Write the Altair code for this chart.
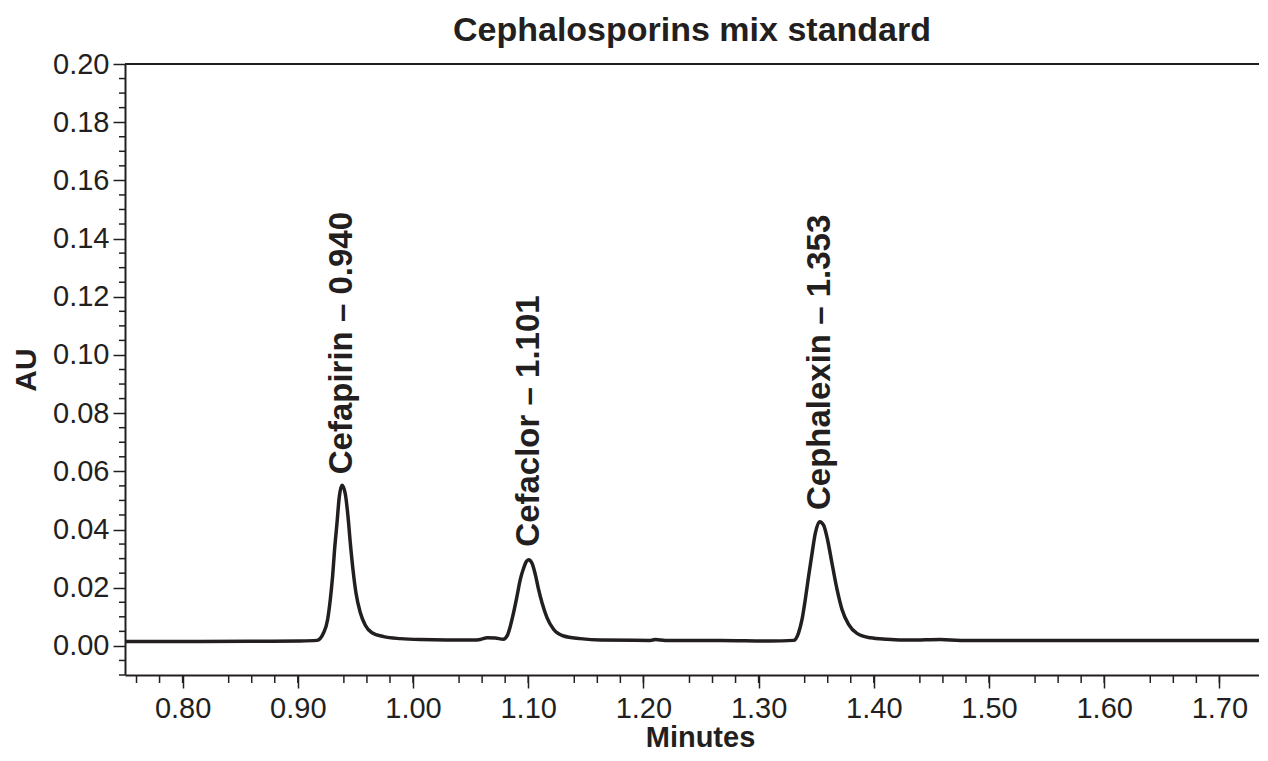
import altair as alt
import pandas as pd

# ---- data ----
minutes = [0.7500, 0.8154, 0.8674, 0.9022, 0.9167, 0.9224, 0.9259, 0.9282, 0.9302,
           0.9319, 0.9340, 0.9360, 0.9384, 0.9412, 0.9436, 0.9456, 0.9479, 0.9505,
           0.9543, 0.9586, 0.9644, 0.9745, 0.9890, 1.0063, 1.0523, 1.0584, 1.0645,
           1.0714, 1.0784, 1.0819, 1.0845, 1.0873, 1.0903, 1.0931, 1.0960, 1.0984,
           1.1003, 1.1033, 1.1062, 1.1090, 1.1120, 1.1163, 1.1220, 1.1307, 1.1452,
           1.1626, 1.2060, 1.2103, 1.2190, 1.2668, 1.3102, 1.3304, 1.3347, 1.3377,
           1.3405, 1.3434, 1.3464, 1.3492, 1.3530, 1.3564, 1.3599, 1.3637, 1.3681,
           1.3724, 1.3781, 1.3854, 1.3970, 1.4115, 1.4317, 1.4577, 1.4751, 1.5532,
           1.6400, 1.7425]
au = [0.0015, 0.0015, 0.0016, 0.0017, 0.0019, 0.0045, 0.0091, 0.0159, 0.0239,
      0.0330, 0.0421, 0.0512, 0.0552, 0.0523, 0.0444, 0.0353, 0.0262, 0.0182,
      0.0114, 0.0071, 0.0045, 0.0032, 0.0025, 0.0022, 0.0020, 0.0022, 0.0028,
      0.0027, 0.0023, 0.0036, 0.0068, 0.0114, 0.0171, 0.0228, 0.0267, 0.0290,
      0.0296, 0.0284, 0.0245, 0.0194, 0.0148, 0.0097, 0.0057, 0.0034, 0.0025,
      0.0020, 0.0019, 0.0022, 0.0019, 0.0019, 0.0017, 0.0019, 0.0045, 0.0091,
      0.0159, 0.0239, 0.0318, 0.0387, 0.0427, 0.0415, 0.0364, 0.0284, 0.0194,
      0.0125, 0.0074, 0.0043, 0.0028, 0.0023, 0.0020, 0.0022, 0.0019, 0.0019,
      0.0019, 0.0019]

peak_labels = ["Cefapirin \u2013 0.940", "Cefaclor \u2013 1.101", "Cephalexin \u2013 1.353"]
peak_label_min = [0.9384, 1.1003, 1.3530]
peak_label_au = [0.0590, 0.0341, 0.0467]

x_major_ticks = [0.80, 0.90, 1.00, 1.10, 1.20, 1.30, 1.40, 1.50, 1.60, 1.70]
y_major_ticks = [0.00, 0.02, 0.04, 0.06, 0.08, 0.10, 0.12, 0.14, 0.16, 0.18, 0.20]
x_minor_ticks = [round(0.76 + 0.02 * i, 2) for i in range(49)
                 if (i + 2) % 5 != 0]                     # 0.76 ... 1.72, skipping majors
y_minor_ticks = [round(-0.01 + 0.005 * i, 3) for i in range(42)
                 if (i - 2) % 4 != 0]                     # -0.01 ... 0.195, skipping majors

FONT = "Liberation Sans"
INK = "#231f20"
W, H = 1134, 611

trace = pd.DataFrame({"t": minutes, "au": au})
labs = pd.DataFrame({"t": peak_label_min, "au": peak_label_au, "label": peak_labels})
xminor = pd.DataFrame({"t": x_minor_ticks})
yminor = pd.DataFrame({"au": y_minor_ticks})
one = pd.DataFrame({"k": [0]})

x_scale = alt.Scale(domain=[0.75, 0.75 + W / 1152], nice=False, zero=False)
y_scale = alt.Scale(domain=[-0.01, 0.20], nice=False, zero=False)

x_axis = alt.Axis(
    values=x_major_ticks, title="Minutes", grid=False, format=".2f",
    tickSize=13, labelPadding=6, labelFlush=False, labelOverlap=False,
    titlePadding=0, titleX=575, titleFontSize=29,
)
y_axis = alt.Axis(
    values=y_major_ticks, title="AU", grid=False, format=".2f",
    tickSize=12, labelPadding=4, labelFlush=False, labelOverlap=False,
    titleX=-84,
)

line = alt.Chart(trace).mark_line(
    color=INK, strokeWidth=3.5, interpolate="monotone", clip=True
).encode(
    x=alt.X("t:Q", scale=x_scale, axis=x_axis),
    y=alt.Y("au:Q", scale=y_scale, axis=y_axis),
)

text = alt.Chart(labs).mark_text(
    angle=270, align="left", baseline="middle", font=FONT, fontSize=33,
    fontWeight="bold", color=INK
).encode(
    x=alt.X("t:Q", scale=x_scale),
    y=alt.Y("au:Q", scale=y_scale),
    text="label:N",
)

x_minor = alt.Chart(xminor).mark_rule(color=INK, strokeWidth=1.5, clip=False).encode(
    x=alt.X("t:Q", scale=x_scale), y=alt.value(H), y2=alt.value(H + 8)
)
y_minor = alt.Chart(yminor).mark_rule(color=INK, strokeWidth=1.5, clip=False).encode(
    y=alt.Y("au:Q", scale=y_scale), x=alt.value(-6), x2=alt.value(0)
)

top = alt.Chart(one).mark_rule(color=INK, strokeWidth=2).encode(
    x=alt.value(0), x2=alt.value(W), y=alt.value(0)
)

chart = alt.layer(line, text, x_minor, y_minor, top).properties(
    width=W, height=H,
    title=alt.Title("Cephalosporins mix standard", font=FONT, fontSize=34,
                    fontWeight="bold", color=INK, anchor="middle", offset=2,
                    frame="group"),
    autosize=alt.AutoSizeParams(type="none"),
    padding={"left": 117, "top": 56, "right": 0, "bottom": 78},
).configure_view(stroke=None).configure_axis(
    domainColor=INK, domainWidth=2, tickColor=INK, tickWidth=1.5,
    labelFont=FONT, labelFontSize=29, labelColor=INK,
    titleFont=FONT, titleFontSize=30, titleFontWeight="bold", titleColor=INK,
)

chart.save("out.html", embed_options={"renderer": "svg", "actions": False})
